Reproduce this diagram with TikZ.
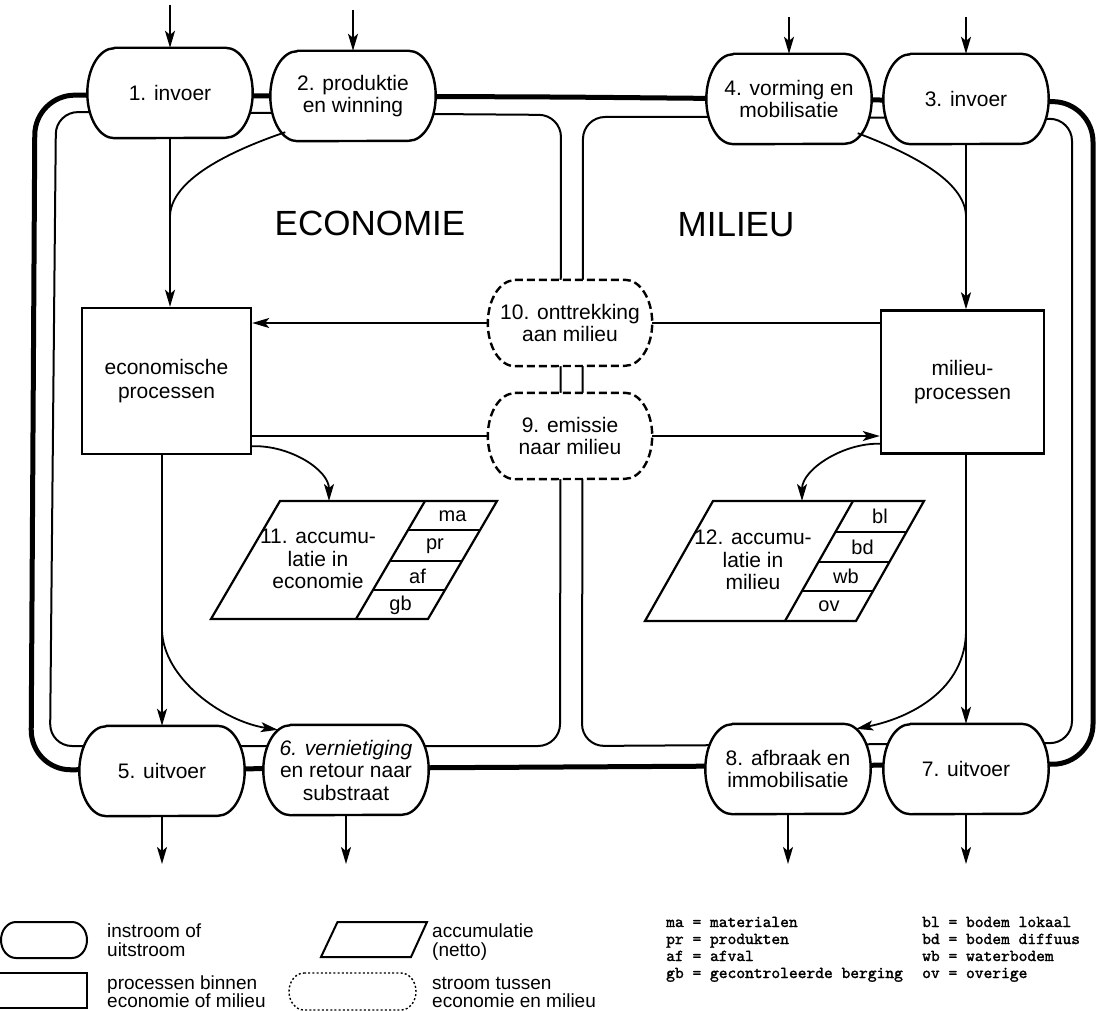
\documentclass[tikz,border=0pt]{standalone}
\usepackage{fontspec}
\setmainfont{Liberation Sans}
\newfontfamily\codefont{lmmono10-regular.otf}[FakeBold=1.6]
\usetikzlibrary{arrows.meta}
\pgfdeclarelayer{frames}
\pgfdeclarelayer{shapes}
\pgfsetlayers{frames,shapes,main}

% rounded outline (elliptic ends) drawn under a flow node
\newcommand\flowshape[3][]{%
  \begin{pgfonlayer}{shapes}
    \filldraw[capline,#1]
      ([xshift=27pt]#2.north west) -- ([xshift=-27pt]#2.north east)
      arc[start angle=90,end angle=-90,x radius=27pt,y radius=#3pt]
      -- ([xshift=27pt]#2.south west)
      arc[start angle=270,end angle=90,x radius=27pt,y radius=#3pt]
      -- cycle;
  \end{pgfonlayer}}

\begin{document}
\begin{tikzpicture}[x=1pt,y=-1pt,
  flow/.style={font=\fontsize{21}{22.5}\selectfont, align=center,
    minimum width=165pt, minimum height=90pt, inner sep=0pt},
  exch/.style={flow, minimum width=164pt, minimum height=86pt},
  capline/.style={line width=2.4pt, fill=white, line join=round},
  exchline/.style={dash pattern=on 8pt off 4pt},
  procbox/.style={draw, line width=2.4pt, fill=white, align=center,
    inner sep=0pt, font=\fontsize{21}{24}\selectfont},
  thinframe/.style={line width=2pt, rounded corners=22pt},
  thickframe/.style={line width=5pt, rounded corners=40pt},
  flowline/.style={line width=1.8pt},
  flowarrow/.style={flowline, -{Stealth[length=17pt,width=10pt,inset=4pt]}},
  accline/.style={line width=2.2pt, line join=miter},
  acctext/.style={font=\fontsize{21}{22.5}\selectfont, align=center, inner sep=0pt},
  celltext/.style={font=\fontsize{20}{22}\selectfont, inner sep=0pt},
  title/.style={font=\fontsize{35}{40}\selectfont, inner sep=0pt},
  legline/.style={line width=2pt},
  legtext/.style={font=\fontsize{19}{21}\selectfont, anchor=base west, inner sep=0pt},
  legcode/.style={font=\codefont\fontsize{16.7}{17}\selectfont, anchor=base west, inner sep=0pt},
]
\useasboundingbox (0,0) rectangle (1105,1011);

% ---------- frames: the outer flow loop and the two domains ----------
\begin{pgfonlayer}{frames}
  \fill[white] (0,0) rectangle (1105,1011);
  \draw[thickframe] (560,97) -- (1093,102) -- (1093,764) -- (31,770) -- (35,95) -- cycle;
  \draw[thinframe] (300,113) -- (561,115) -- (560,746) -- (50,746) -- (56,112) -- cycle;
  \draw[thinframe] (800,117) -- (1072,119) -- (1072,743) -- (582,746) -- (583,117) -- cycle;
\end{pgfonlayer}

% ---------- titles ----------
\node[title] (eco) at (370,223) {ECONOMIE};
\node[title] (mil) at (736,225) {MILIEU};

% ---------- in- and outflow nodes ----------
\node[flow] (n1) at (170,93) {1. invoer};
\node[flow] (n2) at (353,96) {2. produktie\\en winning};
\node[flow] (n4) at (789,99) {4. vorming en\\mobilisatie};
\node[flow] (n3) at (966,99) {3. invoer};
\node[flow] (n5) at (162,771) {5. uitvoer};
\node[flow] (n6) at (346,770) {{\itshape 6. vernietiging}\\en retour naar\\substraat};
\node[flow] (n8) at (788,769) {8. afbraak en\\immobilisatie};
\node[flow] (n7) at (966,769) {7. uitvoer};
\node[exch] (n10) at (570,323) {10. onttrekking\\aan milieu};
\node[exch] (n9) at (570,436) {9. emissie\\naar milieu};

\flowshape{n1}{45}
\flowshape{n2}{45}
\flowshape{n4}{45}
\flowshape{n3}{45}
\flowshape{n5}{45}
\flowshape{n6}{45}
\flowshape{n8}{45}
\flowshape{n7}{45}
\flowshape[exchline]{n10}{43}
\flowshape[exchline]{n9}{43}

% ---------- process boxes ----------
\node[procbox, minimum width=169pt, minimum height=146pt] (ebox) at (166.5,381) {economische\\processen};
\node[procbox, minimum width=163pt, minimum height=143pt] (mbox) at (962.5,382) {milieu-\\processen};

% ---------- accumulation 11 ----------
\draw[accline] (280,501) -- (497,501) -- (428,619) -- (211,619) -- cycle;
\draw[accline] (425,501) -- (356,619);
\draw[accline] (408,530) -- (480,530) (390,561) -- (462,561) (373,590) -- (445,590);
\node[acctext] (acc11) at (318,559) {11. accumu-\\latie in\\economie};
\node[celltext] (c11a) at (452.5,516) {ma};
\node[celltext] (c11b) at (435,546) {pr};
\node[celltext] (c11c) at (417.5,576) {af};
\node[celltext] (c11d) at (400.5,605) {gb};
\coordinate (p11in) at (329,501);

% ---------- accumulation 12 ----------
\draw[accline] (713,501) -- (924,501) -- (856,621) -- (645,621) -- cycle;
\draw[accline] (853,501) -- (785,621);
\draw[accline] (835.4,532) -- (906.4,532) (818.4,562) -- (889.4,562) (802,591) -- (873,591);
\node[acctext] (acc12) at (753,560) {12. accumu-\\latie in\\milieu};
\node[celltext] (c12a) at (880,516.5) {bl};
\node[celltext] (c12b) at (862.5,547) {bd};
\node[celltext] (c12c) at (846,576.5) {wb};
\node[celltext] (c12d) at (829,606) {ov};
\coordinate (p12in) at (802,501);

% ---------- external in- and outflows ----------
\coordinate (i1) at (170,5);
\coordinate (i2) at (353,10);
\coordinate (i4) at (789,17);
\coordinate (i3) at (966,17);
\coordinate (o5) at (162,864);
\coordinate (o6) at (346,864);
\coordinate (o8) at (788,864);
\coordinate (o7) at (966,864);
\draw[flowarrow] (i1) -- (n1.north);
\draw[flowarrow] (i2) -- (n2.north);
\draw[flowarrow] (i4) -- (n4.north);
\draw[flowarrow] (i3) -- (n3.north);
\draw[flowarrow] (n5.south) -- (o5);
\draw[flowarrow] (n6.south) -- (o6);
\draw[flowarrow] (n8.south) -- (o8);
\draw[flowarrow] (n7.south) -- (o7);

% ---------- economy flows ----------
\coordinate (j2) at (170,217);
\draw[flowarrow] (n1.south) -- (n1.south |- ebox.north);
\draw[flowline] ([shift={(15pt,9pt)}]n2.south west) .. controls (230,151) and (170,180) .. (j2);
\draw[flowarrow] (ebox.south -| n5.north) -- (n5.north);
\coordinate (b5) at (162,630);
\draw[flowarrow] (b5) .. controls (163,678) and (222,721) .. ([shift={(14.5pt,-5pt)}]n6.north west);
\draw[flowarrow] ([yshift=9pt]ebox.south east) .. controls (290,445) and (329,470) .. (p11in);

% ---------- environment flows ----------
\coordinate (j4) at (966,217);
\draw[flowarrow] (n3.south) -- (n3.south |- mbox.north);
\draw[flowline] ([shift={(-14pt,11pt)}]n4.south east) .. controls (907,152) and (966,180) .. (j4);
\draw[flowarrow] (mbox.south -| n7.north) -- (n7.north);
\coordinate (b8) at (966,630);
\draw[flowarrow] (b8) .. controls (966,690) and (910,718) .. ([shift={(-14.5pt,-5pt)}]n8.north east);
\draw[flowarrow] ([yshift=11pt]mbox.south west) .. controls (842,443) and (802,470) .. (p12in);

% ---------- exchange between economy and environment ----------
\draw[flowarrow] (n10.west) -- (n10.west -| ebox.east);
\draw[flowline] (mbox.west |- n10.east) -- (n10.east);
\draw[flowline] (ebox.east |- n9.west) -- (n9.west);
\draw[flowarrow] (n9.east) -- (n9.east -| mbox.west);

% ---------- legend ----------
\draw[legline] (16,922) -- (72,922) arc[start angle=90,end angle=-90,x radius=15pt,y radius=18pt]
  -- (16,958) arc[start angle=270,end angle=90,x radius=15pt,y radius=18pt] -- cycle;
\draw[legline] (0,973) -- (87,973) -- (87,1008) -- (0,1008);
\draw[legline] (321,957) -- (337.5,922) -- (427,922) -- (411,957) -- cycle;
\draw[line width=1.4pt, dash pattern=on 2pt off 2.2pt]
  (304,973) -- (401,973) arc[start angle=90,end angle=-90,x radius=15pt,y radius=18.5pt]
  -- (304,1010) arc[start angle=270,end angle=90,x radius=15pt,y radius=18.5pt] -- cycle;

\node[legtext] (lg1) at (107,937) {instroom of};
\node[legtext] (lg2) at (107,956) {uitstroom};
\node[legtext] (lg3) at (107,989) {processen binnen};
\node[legtext] (lg4) at (107,1007) {economie of milieu};
\node[legtext] (lg5) at (432,937) {accumulatie};
\node[legtext] (lg6) at (432,956) {(netto)};
\node[legtext] (lg7) at (432,989) {stroom tussen};
\node[legtext] (lg8) at (432,1007) {economie en milieu};

\node[legcode] (ab1) at (666,927) {ma = materialen};
\node[legcode] (ab2) at (666,944) {pr = produkten};
\node[legcode] (ab3) at (666,961) {af = afval};
\node[legcode] (ab4) at (666,978) {gb = gecontroleerde berging};
\node[legcode] (ab5) at (922,927) {bl = bodem lokaal};
\node[legcode] (ab6) at (922,944) {bd = bodem diffuus};
\node[legcode] (ab7) at (922,961) {wb = waterbodem};
\node[legcode] (ab8) at (922,978) {ov = overige};
\end{tikzpicture}
\end{document}
